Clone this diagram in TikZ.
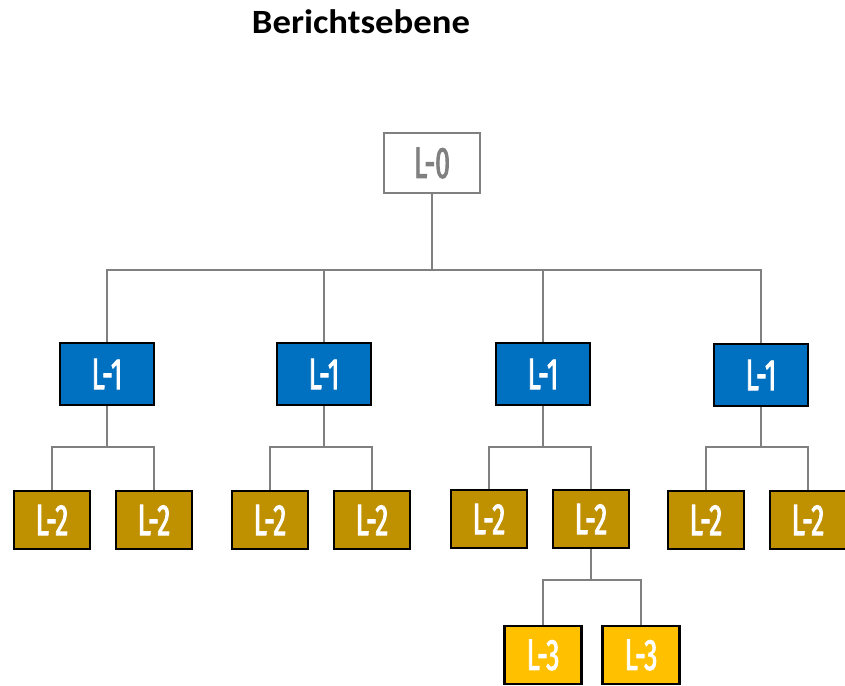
\documentclass[tikz,border=0pt]{standalone}
\usepackage{fontspec}
\setmainfont{Carlito}
\newfontfamily\titlefont[FakeStretch=1.08]{Carlito}
\newfontfamily\boxfont[FakeStretch=0.6,FakeBold=2]{Fira Sans}
\definecolor{lblue}{HTML}{0070C0}
\definecolor{ldgold}{HTML}{BF9000}
\definecolor{lgold}{HTML}{FFC000}
\definecolor{lgray}{HTML}{808080}
\begin{document}
\begin{tikzpicture}[x=1pt,y=-1pt,
  lvl/.style={draw=black,line width=2.2pt,inner sep=0pt,minimum width=94pt,minimum height=62pt,text=white,font=\boxfont\fontsize{44}{44}\selectfont},
  lone/.style={lvl,fill=lblue},
  ltwo/.style={lvl,fill=ldgold,minimum width=76pt,minimum height=58pt},
  lthree/.style={lvl,fill=lgold,minimum width=77pt,minimum height=58pt},
  lzero/.style={lvl,draw=lgray,fill=white,text=lgray,minimum width=96pt,minimum height=60pt},
  conn/.style={draw=lgray,line width=2pt}]
\useasboundingbox (0,0) rectangle (845,685);
\node[font=\titlefont\bfseries\fontsize{34}{34}\selectfont,anchor=base,inner sep=0pt] (title) at (361,34) {Berichtsebene};
\node[lzero] (l0) at (432,163) {L-0};
\node[lone] (a) at (107,374) {L-1};
\node[lone] (b) at (324,374) {L-1};
\node[lone] (c) at (543,374) {L-1};
\node[lone] (d) at (761,375) {L-1};
\node[ltwo] (a1) at (52,520) {L-2};
\node[ltwo] (a2) at (154,520) {L-2};
\node[ltwo] (b1) at (270,520) {L-2};
\node[ltwo] (b2) at (372,520) {L-2};
\node[ltwo] (c1) at (489,519) {L-2};
\node[ltwo] (c2) at (591,519) {L-2};
\node[ltwo] (d1) at (706,520) {L-2};
\node[ltwo] (d2) at (808,520) {L-2};
\node[lthree] (e1) at (543,655) {L-3};
\node[lthree] (e2) at (641,655) {L-3};
% connectors
\coordinate (bus) at (432,270);
\draw[conn] (l0.south) -- (bus);
\draw[conn] (a.north) |- (bus);
\draw[conn] (d.north) |- (bus);
\draw[conn] (b.north) -- (b.north |- bus);
\draw[conn] (c.north) -- (c.north |- bus);
\foreach \p/\q/\r in {a/a1/a2,b/b1/b2,c/c1/c2,d/d1/d2}{
  \draw[conn] (\p.south) -- (\p.south |- 0,447);
  \draw[conn] (\q.north) |- (\p.south |- 0,447) -| (\r.north);
}
\draw[conn] (c2.south) -- (c2.south |- 0,580);
\draw[conn] (e1.north) |- (c2.south |- 0,580) -| (e2.north);
\end{tikzpicture}
\end{document}
